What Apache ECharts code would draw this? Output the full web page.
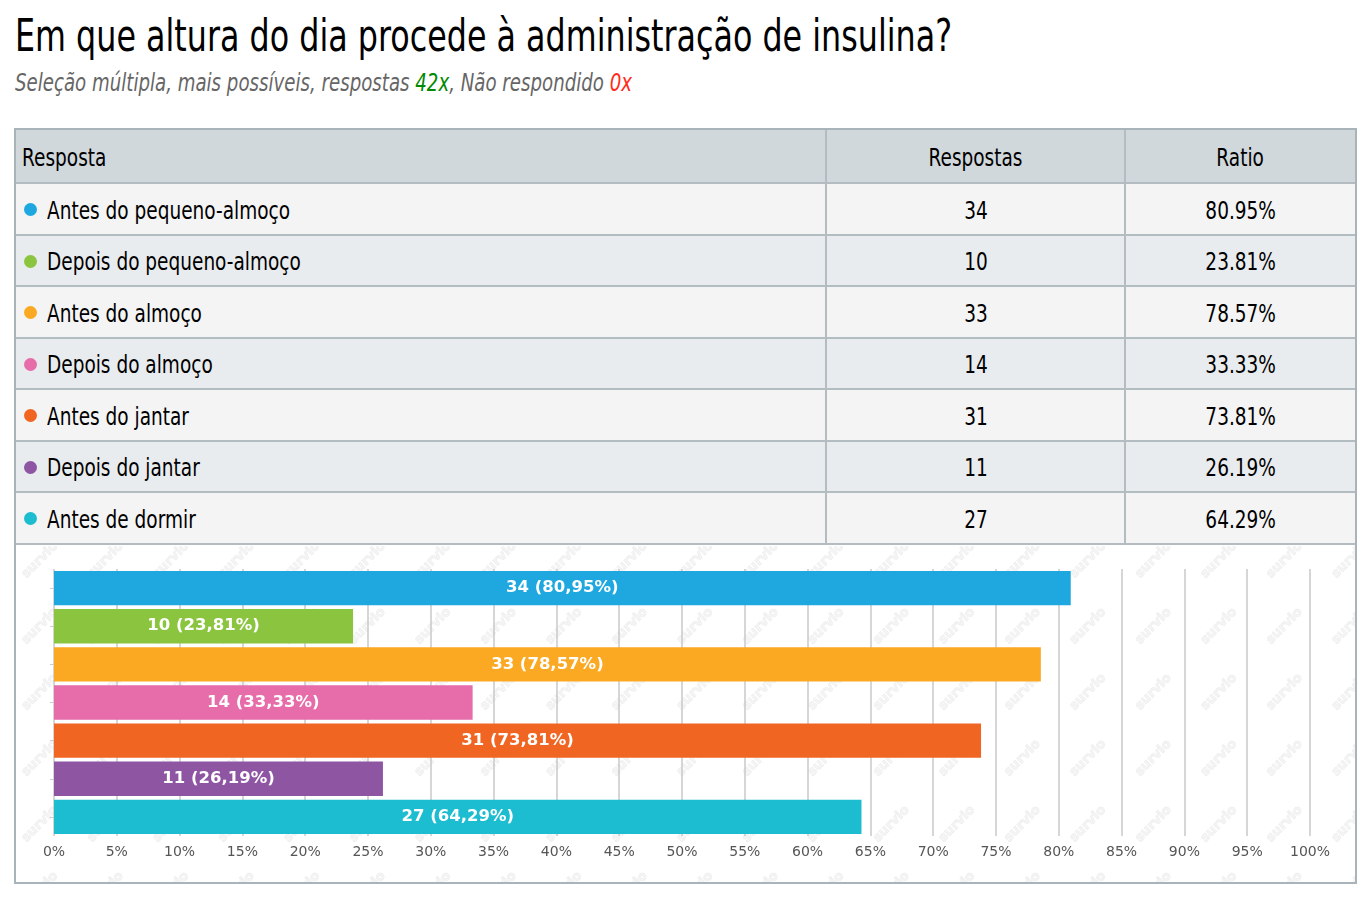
<!DOCTYPE html>
<html>
<head>
<meta charset="utf-8">
<script src="https://cdn.jsdelivr.net/npm/echarts@6/dist/echarts.min.js"></script>
<style>
  html, body { margin: 0; padding: 0; background: #fff; width: 1369px; height: 903px; overflow: hidden; }
  .narrow { font-family: "DejaVu Sans", sans-serif; }
  #title { position: absolute; left: 15px; top: 8px; font-size: 44px; color: #000; white-space: nowrap; line-height: 56px; transform-origin: left center; }
  #subtitle { position: absolute; left: 15px; top: 68px; font-size: 25px; font-style: italic; color: #666; white-space: nowrap; line-height: 30px; transform-origin: left center; }
  #subtitle .g { color: #008a00; }
  #subtitle .r { color: #ff2a1a; }
  #box { position: absolute; left: 14px; top: 128px; width: 1339px; height: 752px; border: 2px solid #a9b4ba; }
  table { position: absolute; left: 0; top: 0; border-collapse: collapse; width: 1339px; }
  td, th { border: 2px solid #b3bcc1; font-weight: normal; font-size: 25px; color: #000; padding: 3px 0 0 0; white-space: nowrap; box-sizing: border-box; }
  th { background: #d0d8dc; height: 53px; }
  td { height: 51.5px; }
  tr:first-child th { border-top: none; }
  th:first-child, td:first-child { border-left: none; text-align: left; }
  th:last-child, td:last-child { border-right: none; }
  .c1 { width: 810px; }
  .c2 { width: 299px; text-align: center; }
  .c3 { text-align: center; }
  .t { display: inline-block; transform-origin: center center; }
  .c1 .t { transform-origin: left center; }
  .dot { display: inline-block; width: 13px; height: 13px; border-radius: 50%; margin: 0 10px 0 8px; vertical-align: middle; position: relative; top: -2px; }
  th.c1 { padding-left: 6px; }
  #chart { position: absolute; left: 0; top: 416px; width: 1339px; height: 336px; }
</style>
</head>
<body>
<div id="title" class="narrow"></div>
<div id="subtitle" class="narrow"></div>
<div id="box">
  <table id="tbl" class="narrow"></table>
  <div id="chart"></div>
</div>
<script>
// ---- data ----
const titleText = "Em que altura do dia procede à administração de insulina?";
const subtitleParts = ["Seleção múltipla, mais possíveis, respostas ", "42x", ", Não respondido ", "0x"];
const headers = ["Resposta", "Respostas", "Ratio"];
const categories = [
  "Antes do pequeno-almoço",
  "Depois do pequeno-almoço",
  "Antes do almoço",
  "Depois do almoço",
  "Antes do jantar",
  "Depois do jantar",
  "Antes de dormir"
];
const counts = [34, 10, 33, 14, 31, 11, 27];
const ratios = [80.95, 23.81, 78.57, 33.33, 73.81, 26.19, 64.29];
const tickLabels = ["0%","5%","10%","15%","20%","25%","30%","35%","40%","45%","50%","55%","60%","65%","70%","75%","80%","85%","90%","95%","100%"];
const watermarkText = "survio";

// ---- styles ----
const colors = ["#1ea8df", "#8bc540", "#fba922", "#e66caa", "#f16522", "#8e55a3", "#1cbdd0"];
const rowBg = ["#f4f4f4", "#e9ecee"];

// ---- header texts ----
const titleEl = document.getElementById("title");
titleEl.textContent = titleText;
const sub = document.getElementById("subtitle");
subtitleParts.forEach((p, i) => {
  const s = document.createElement("span");
  if (i === 1) s.className = "g";
  if (i === 3) s.className = "r";
  s.textContent = p;
  sub.appendChild(s);
});

// ---- table ----
const tbl = document.getElementById("tbl");
let html = "<tr><th class='c1' style='text-align:left'><span class='t'>" + headers[0] + "</span></th><th class='c2'><span class='t'>" + headers[1] + "</span></th><th class='c3'><span class='t'>" + headers[2] + "</span></th></tr>";
categories.forEach((c, i) => {
  const bg = rowBg[i % 2];
  html += "<tr style='background:" + bg + "'><td class='c1'><span class='dot' style='background:" + colors[i] + "'></span><span class='t'>" + c +
    "</span></td><td class='c2'><span class='t'>" + counts[i] + "</span></td><td class='c3'><span class='t'>" + ratios[i].toFixed(2) + "%</span></td></tr>";
});
tbl.innerHTML = html;

// condense text horizontally (narrow face is not installed)
function fitWidth(el, target) {
  const w = el.getBoundingClientRect().width;
  const s = target / w;
  el.style.transform = "scaleX(" + s + ")";
  return s;
}
titleEl.style.display = "inline-block";
sub.style.display = "inline-block";
fitWidth(titleEl, 937);
fitWidth(sub, 617);
const spans = tbl.querySelectorAll(".t");
const refSpan = tbl.querySelectorAll("td.c1 .t")[0];
const k = 243 / refSpan.getBoundingClientRect().width;
spans.forEach(s => { s.style.transform = "scaleX(" + k + ")"; });

// ---- chart ----
const chart = echarts.init(document.getElementById("chart"), null, { renderer: "canvas" });

const wm = [];
for (let r = 0; r < 6; r++) {
  for (let c = 0; c < 21; c++) {
    wm.push({
      type: "text",
      x: 24 + c * 65.5,
      y: 14 + r * 66,
      rotation: Math.PI / 4,
      z: 0,
      silent: true,
      style: {
        text: watermarkText,
        fill: "#f4f4f4",
        stroke: "#e6e6e6",
        lineWidth: 0.6,
        font: "bold 13px 'DejaVu Sans'",
        align: "center",
        verticalAlign: "middle"
      }
    });
  }
}

chart.setOption({
  animation: false,
  graphic: { elements: wm },
  grid: { left: 38, right: 45, top: 23, bottom: 46, containLabel: false },
  xAxis: {
    type: "value",
    min: 0,
    max: 100,
    interval: 5,
    axisLine: { show: false },
    axisTick: { show: false },
    splitLine: { show: true, lineStyle: { color: "#c8c8c8", width: 1.5 } },
    axisLabel: {
      margin: 9,
      color: "#555",
      fontFamily: "DejaVu Sans",
      fontSize: 14,
      formatter: (v) => tickLabels[Math.round(v / 5)]
    }
  },
  yAxis: {
    type: "category",
    inverse: true,
    data: categories,
    axisLine: { show: false },
    axisTick: { show: true, length: 4, alignWithLabel: true, lineStyle: { color: "#ccc" } },
    axisLabel: { show: false }
  },
  series: [{
    type: "bar",
    z: 3,
    barCategoryGap: "10%",
    data: ratios.map((v, i) => ({ value: v, itemStyle: { color: colors[i] } })),
    label: {
      show: true,
      position: "inside",
      color: "#fff",
      fontFamily: "DejaVu Sans",
      fontWeight: "bold",
      fontSize: 16.5,
      formatter: (p) => counts[p.dataIndex] + " (" + ratios[p.dataIndex].toFixed(2).replace(".", ",") + "%)"
    }
  }]
});
</script>
</body>
</html>
